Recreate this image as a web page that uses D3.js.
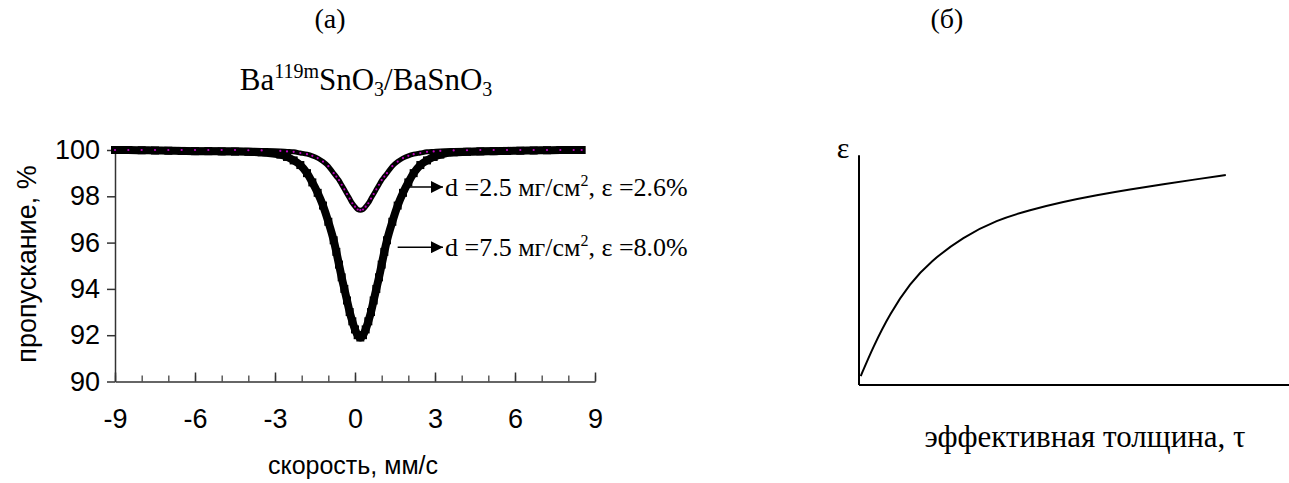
<!DOCTYPE html>
<html>
<head>
<meta charset="utf-8">
<script src="https://cdn.jsdelivr.net/npm/d3@7"></script>
<style>
  html, body { margin: 0; padding: 0; background: #fff; }
  svg { display: block; }
</style>
</head>
<body>
<svg id="chart" width="1289" height="483"></svg>
<script>
// ---------------- DATA ----------------
// Panel (a): Mossbauer spectra, velocity (mm/s) vs transmission (%)
const velocity = [-9, -8.5, -8, -7.5, -7, -6.5, -6, -5.5, -5, -4.5, -4, -3.5,
  -2.8, -2.55, -2.3, -2.05, -1.8, -1.6, -1.4, -1.2, -1.0, -0.8,
  -0.7, -0.6, -0.5, -0.4, -0.3, -0.2, -0.1, 0, 0.1, 0.2, 0.3, 0.4, 0.5, 0.6, 0.7, 0.8, 0.9, 1.0, 1.1, 1.2,
  1.4, 1.6, 1.8, 2.0, 2.2, 2.45, 2.7, 2.95, 3.2, 3.7,
  4.2, 4.7, 5.2, 5.7, 6.2, 6.7, 7.2, 7.7, 8.2, 8.5];
// d = 7.5 mg/cm2, eps = 8.0 %
const trans75 = [100, 100, 99.99, 99.98, 99.97, 99.96, 99.95, 99.95, 99.94, 99.93, 99.92, 99.9,
  99.8, 99.7, 99.55, 99.35, 99.0, 98.6, 98.15, 97.6, 96.9, 96.1,
  95.6, 95.05, 94.5, 94.0, 93.5, 93.0, 92.6, 92.25, 92.0, 91.9, 92.0, 92.25, 92.6, 93.0, 93.5, 94.0, 94.5, 95.05, 95.6, 96.1,
  96.9, 97.6, 98.15, 98.6, 99.0, 99.35, 99.55, 99.7, 99.8, 99.9,
  99.92, 99.94, 99.95, 99.96, 99.97, 99.98, 99.99, 100, 100, 100];
// d = 2.5 mg/cm2, eps = 2.6 %
const trans25 = [100, 100, 100, 100, 100, 100, 100, 100, 100, 100, 99.99, 99.98,
  99.96, 99.94, 99.92, 99.87, 99.82, 99.75, 99.65, 99.5, 99.3, 99.0,
  98.85, 98.7, 98.5, 98.3, 98.1, 97.9, 97.7, 97.55, 97.43, 97.4, 97.43, 97.55, 97.7, 97.9, 98.1, 98.3, 98.5, 98.7, 98.85, 99.0,
  99.3, 99.5, 99.65, 99.75, 99.82, 99.87, 99.92, 99.94, 99.96, 99.98,
  99.99, 100, 100, 100, 100, 100, 100, 100, 100, 100];
const xMajorTicks = [-9, -6, -3, 0, 3, 6, 9];
const xMinorTicks = [-9, -8, -7, -6, -5, -4, -3, -2, -1, 0, 1, 2, 3, 4, 5, 6, 7, 8, 9];
const yTicks = [90, 92, 94, 96, 98, 100];
const annotations = [
  { text: "d =2.5 мг/см", sup: "2", rest: ", ε =2.6%", fromV: 1.8, toV: 3.3, level: 98.4 },
  { text: "d =7.5 мг/см", sup: "2", rest: ", ε =8.0%", fromV: 1.6, toV: 3.3, level: 95.8 }
];

// Panel (b): schematic dependence of eps on effective thickness tau (arbitrary units)
const tau = [0.04, 0.33, 0.72, 1.19, 1.65, 2.43, 3.20, 3.98, 4.75, 5.53, 6.30, 7.08, 7.85, 8.53];
const eps = [0.36, 1.55, 2.90, 4.12, 4.99, 6.00, 6.68, 7.09, 7.42, 7.69, 7.92, 8.13, 8.33, 8.50];

// ---------------- DRAW ----------------
const svg = d3.select("#chart");
svg.append("rect").attr("width", 1289).attr("height", 483).attr("fill", "#fff");

const SANS = "'Liberation Sans', Arial, sans-serif";
const SERIF = "'Liberation Serif', 'Times New Roman', serif";

// panel labels
svg.append("text").attr("x", 330).attr("y", 28).attr("text-anchor", "middle")
  .style("font-family", SERIF).style("font-size", "28px").text("(а)");
svg.append("text").attr("x", 947).attr("y", 28).attr("text-anchor", "middle")
  .style("font-family", SERIF).style("font-size", "28px").text("(б)");

// ---- Panel (a)
const x = d3.scaleLinear().domain([-9, 9]).range([115, 595]);
const y = d3.scaleLinear().domain([90, 100]).range([381.5, 150]);

// title
const title = svg.append("text").attr("x", 366).attr("y", 90).attr("text-anchor", "middle")
  .style("font-family", SERIF).style("font-size", "31px");
title.append("tspan").text("Ba");
title.append("tspan").attr("dy", -12).style("font-size", "20px").text("119m");
title.append("tspan").attr("dy", 12).text("SnO");
title.append("tspan").attr("dy", 6).style("font-size", "20px").text("3");
title.append("tspan").attr("dy", -6).text("/BaSnO");
title.append("tspan").attr("dy", 6).style("font-size", "20px").text("3");

// minor x ticks
const gMinor = svg.append("g").attr("transform", `translate(0,${y(90)})`)
  .call(d3.axisBottom(x).tickValues(xMinorTicks).tickSizeInner(-6).tickSizeOuter(0).tickFormat(""));
gMinor.select(".domain").attr("stroke", "#333").attr("stroke-width", 1.5);
gMinor.selectAll(".tick line").attr("stroke", "#333").attr("stroke-width", 1.2);

// major x ticks with labels
const gX = svg.append("g").attr("transform", `translate(0,${y(90)})`)
  .call(d3.axisBottom(x).tickValues(xMajorTicks).tickSizeInner(-9).tickSizeOuter(0)
    .tickPadding(27).tickFormat(d => String(d)));
gX.select(".domain").remove();
gX.selectAll(".tick line").attr("stroke", "#333").attr("stroke-width", 1.5);
gX.selectAll("text").style("font-family", SANS).style("font-size", "27px").attr("fill", "#000");

// y axis
const gY = svg.append("g").attr("transform", `translate(${x(-9)},0)`)
  .call(d3.axisLeft(y).tickValues(yTicks).tickSizeInner(8).tickSizeOuter(0).tickPadding(7)
    .tickFormat(d => String(d)));
gY.select(".domain").attr("stroke", "#333").attr("stroke-width", 1.5);
gY.selectAll(".tick line").attr("stroke", "#333").attr("stroke-width", 1.5);
gY.selectAll("text").style("font-family", SANS).style("font-size", "27px").attr("fill", "#000");

// axis titles
svg.append("text").attr("transform", "translate(36,264) rotate(-90)").attr("text-anchor", "middle")
  .style("font-family", SANS).style("font-size", "27px").text("пропускание, %");
svg.append("text").attr("x", 353).attr("y", 474).attr("text-anchor", "middle")
  .style("font-family", SANS).style("font-size", "25px").text("скорость, мм/с");

const pts75 = velocity.map((v, i) => [v, trans75[i]]);
const pts25 = velocity.map((v, i) => [v, trans25[i]]);
const line = d3.line().x(d => x(d[0])).y(d => y(d[1])).curve(d3.curveMonotoneX);

// thick series (7.5 mg/cm2): dense square markers -> thick band
svg.append("path").attr("d", line(pts75)).attr("fill", "none")
  .attr("stroke", "#000").attr("stroke-width", 8).attr("stroke-linejoin", "round");
svg.append("g").selectAll("rect").data(pts75).join("rect")
  .attr("x", d => x(d[0]) - 4).attr("y", d => y(d[1]) - 4)
  .attr("width", 8).attr("height", 8).attr("fill", "#000");

// thin series (2.5 mg/cm2): black line with magenta dots
svg.append("path").attr("d", line(pts25)).attr("fill", "none")
  .attr("stroke", "#000").attr("stroke-width", 5).attr("stroke-linejoin", "round");
svg.append("g").selectAll("circle").data(pts25).join("circle")
  .attr("cx", d => x(d[0])).attr("cy", d => y(d[1])).attr("r", 1.1).attr("fill", "#c000c0");

// annotations with arrows
const defs = svg.append("defs");
defs.append("marker").attr("id", "arr").attr("viewBox", "0 0 10 10").attr("refX", 10).attr("refY", 5)
  .attr("markerWidth", 14).attr("markerHeight", 12).attr("markerUnits", "userSpaceOnUse").attr("orient", "auto")
  .append("path").attr("d", "M0,0 L10,5 L0,10 Z").attr("fill", "#000");
annotations.forEach(a => {
  svg.append("line").attr("x1", x(a.fromV)).attr("x2", x(a.toV))
    .attr("y1", y(a.level)).attr("y2", y(a.level))
    .attr("stroke", "#000").attr("stroke-width", 1.5).attr("marker-end", "url(#arr)");
  const t = svg.append("text").attr("x", x(a.toV) + 2).attr("y", y(a.level) + 9)
    .style("font-family", SERIF).style("font-size", "26px");
  t.append("tspan").text(a.text);
  t.append("tspan").attr("dy", -10).style("font-size", "16px").text(a.sup);
  t.append("tspan").attr("dy", 10).text(a.rest);
});

// ---- Panel (b)
const xb = d3.scaleLinear().domain([0, 10]).range([859, 1289]);
const yb = d3.scaleLinear().domain([0, 10]).range([385, 138]);
svg.append("line").attr("x1", xb(0)).attr("x2", xb(0)).attr("y1", yb(0)).attr("y2", yb(9.3))
  .attr("stroke", "#000").attr("stroke-width", 2);
svg.append("line").attr("x1", xb(0)).attr("x2", xb(10)).attr("y1", yb(0)).attr("y2", yb(0))
  .attr("stroke", "#000").attr("stroke-width", 2);
const lineB = d3.line().x((d, i) => xb(tau[i])).y((d, i) => yb(eps[i])).curve(d3.curveBasis);
svg.append("path").attr("d", lineB(tau)).attr("fill", "none").attr("stroke", "#000").attr("stroke-width", 2);
svg.append("text").attr("x", 843).attr("y", 158).attr("text-anchor", "middle")
  .style("font-family", SERIF).style("font-size", "30px").text("ε");
svg.append("text").attr("x", 1085).attr("y", 447).attr("text-anchor", "middle")
  .style("font-family", SERIF).style("font-size", "31px").text("эффективная толщина, τ");
</script>
</body>
</html>
